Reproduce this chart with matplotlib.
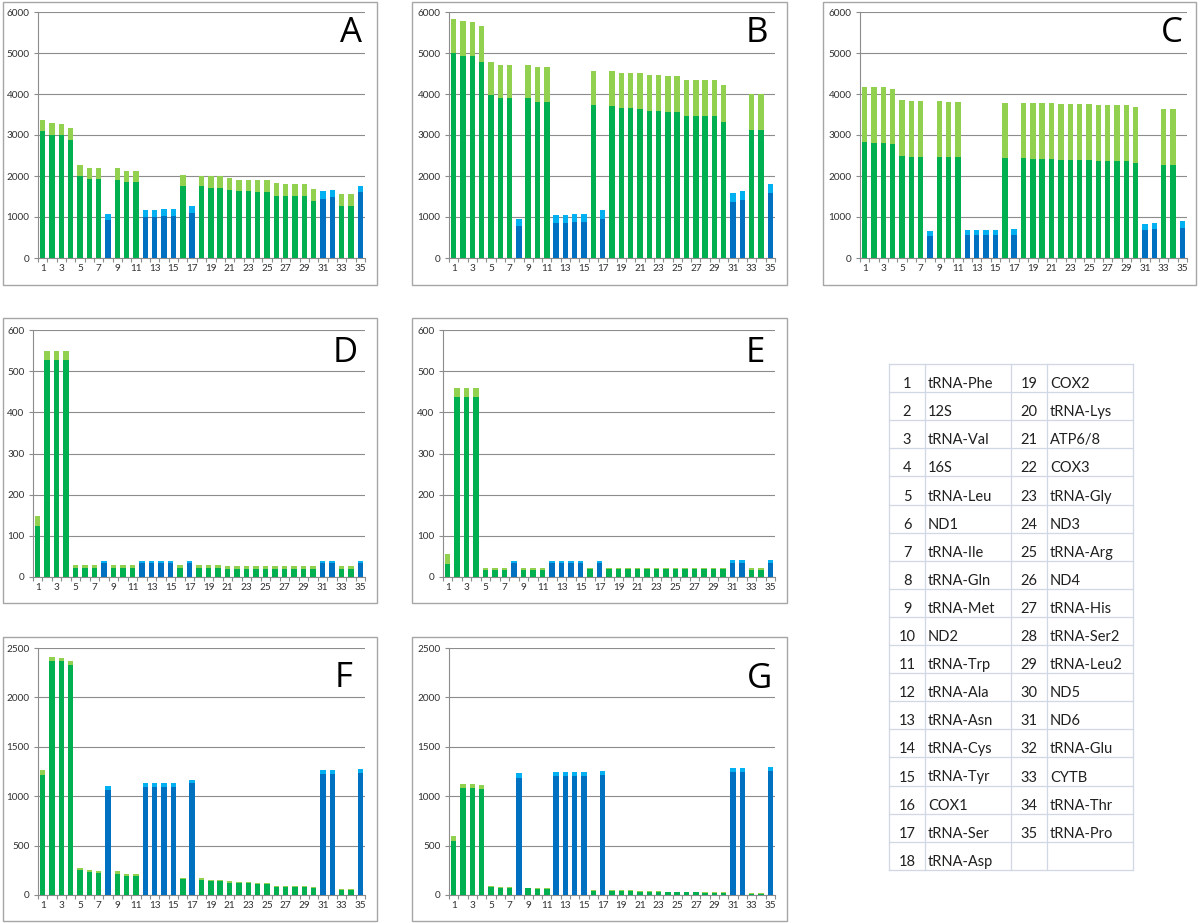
import numpy as np
import matplotlib
matplotlib.use("Agg")
import matplotlib.pyplot as plt
from matplotlib.patches import Rectangle
from matplotlib.lines import Line2D

plt.rcParams['font.family'] = ['Lato', 'DejaVu Sans']

W, H = 1200, 923

# gene positions 1..35 and which ones sit on the other strand (blue)
positions = list(range(1, 36))
blue_genes = [8, 12, 13, 14, 15, 17, 31, 32, 35]

genes = ['tRNA-Phe', '12S', 'tRNA-Val', '16S', 'tRNA-Leu', 'ND1', 'tRNA-Ile',
         'tRNA-Gln', 'tRNA-Met', 'ND2', 'tRNA-Trp', 'tRNA-Ala', 'tRNA-Asn',
         'tRNA-Cys', 'tRNA-Tyr', 'COX1', 'tRNA-Ser', 'tRNA-Asp', 'COX2',
         'tRNA-Lys', 'ATP6/8', 'COX3', 'tRNA-Gly', 'ND3', 'tRNA-Arg', 'ND4',
         'tRNA-His', 'tRNA-Ser2', 'tRNA-Leu2', 'ND5', 'ND6', 'tRNA-Glu',
         'CYTB', 'tRNA-Thr', 'tRNA-Pro']

# lower (dark) part and full height of each bar, per panel
a_low = [3098, 3008, 3008, 2877, 2008, 1934, 1934, 934, 1910, 1844, 1844,
         1008, 1008, 1025, 1025, 1746, 1107, 1746, 1705, 1705, 1664, 1631,
         1631, 1615, 1615, 1516, 1516, 1516, 1516, 1402, 1451, 1500, 1262,
         1262, 1615]
a_top = [3360, 3287, 3279, 3164, 2279, 2205, 2205, 1066, 2205, 2131, 2131,
         1172, 1172, 1189, 1189, 2033, 1270, 2008, 1992, 1992, 1951, 1910,
         1910, 1893, 1893, 1820, 1803, 1803, 1803, 1689, 1631, 1648, 1549,
         1549, 1746]

b_low = [4996, 4931, 4931, 4792, 3977, 3896, 3896, 782, 3896, 3814, 3814,
         856, 856, 880, 880, 3733, 954, 3708, 3667, 3667, 3627, 3586, 3586,
         3570, 3570, 3472, 3472, 3472, 3472, 3325, 1361, 1418, 3113, 3113,
         1589]
b_top = [5827, 5770, 5746, 5656, 4792, 4711, 4711, 945, 4711, 4662, 4662,
         1043, 1043, 1068, 1068, 4564, 1182, 4564, 4523, 4523, 4507, 4466,
         4466, 4450, 4450, 4344, 4344, 4344, 4344, 4222, 1581, 1638, 3993,
         3993, 1793]

c_low = [2829, 2813, 2813, 2780, 2496, 2472, 2472, 528, 2472, 2455, 2455,
         553, 553, 553, 553, 2431, 569, 2431, 2415, 2415, 2415, 2398, 2398,
         2398, 2398, 2358, 2358, 2358, 2358, 2317, 683, 699, 2260, 2260, 740]
c_top = [4179, 4163, 4163, 4130, 3846, 3821, 3821, 659, 3821, 3805, 3805,
         691, 691, 691, 691, 3789, 715, 3789, 3772, 3772, 3772, 3748, 3748,
         3748, 3748, 3724, 3724, 3724, 3724, 3691, 829, 846, 3634, 3634, 894]

d_low = [123, 526, 526, 526, 22, 22, 22, 33, 22, 22, 22, 33, 33, 33, 33,
         22, 33, 22, 22, 22, 20, 20, 20, 20, 20, 20, 20, 20, 20, 20, 33, 33,
         20, 20, 33]
d_top = [149, 550, 550, 550, 28, 28, 28, 40, 28, 28, 28, 40, 40, 40, 40,
         28, 40, 28, 28, 28, 26, 26, 26, 26, 26, 26, 26, 26, 26, 26, 40, 40,
         26, 26, 40]

e_low = [32, 438, 438, 438, 18, 18, 18, 35, 18, 18, 18, 35, 35, 35, 35,
         19, 35, 19, 19, 19, 19, 19, 19, 19, 19, 19, 19, 19, 19, 19, 35, 35,
         18, 18, 35]
e_top = [56, 458, 458, 458, 23, 23, 23, 40, 23, 23, 23, 40, 40, 40, 40,
         21, 40, 21, 21, 21, 21, 21, 21, 21, 21, 21, 21, 21, 21, 21, 41, 41,
         21, 21, 41]

f_low = [1210, 2366, 2366, 2329, 258, 230, 224, 1058, 217, 197, 197, 1092,
         1092, 1092, 1092, 159, 1129, 156, 142, 142, 125, 119, 119, 112, 112,
         85, 85, 85, 85, 68, 1220, 1220, 51, 51, 1231]
f_top = [1268, 2410, 2403, 2373, 275, 254, 244, 1102, 244, 210, 210, 1132,
         1132, 1132, 1132, 173, 1169, 173, 153, 153, 139, 132, 129, 122, 122,
         95, 95, 95, 95, 78, 1261, 1261, 58, 58, 1271]

g_low = [549, 1088, 1088, 1075, 85, 75, 75, 1186, 68, 61, 61, 1203, 1203,
         1203, 1203, 44, 1210, 44, 44, 44, 34, 34, 34, 27, 27, 27, 27, 20,
         20, 20, 1244, 1244, 10, 10, 1254]
g_top = [593, 1125, 1125, 1112, 92, 81, 81, 1231, 75, 68, 68, 1244, 1244,
         1244, 1244, 51, 1254, 51, 51, 51, 41, 41, 41, 34, 34, 34, 34, 27,
         27, 27, 1285, 1285, 17, 17, 1295]

panels = [
    # letter, low, top, ymax, step, frame px, axes px, letter pos
    ('A', a_low, a_top, 6000, 1000, (3, 2, 377, 285), (38, 12, 365, 258), (0.99, 0.915)),
    ('B', b_low, b_top, 6000, 1000, (412, 2, 787, 285), (449, 12, 775, 258), (0.979, 0.915)),
    ('C', c_low, c_top, 6000, 1000, (823, 2, 1196, 285), (860, 12, 1187, 258), (0.988, 0.915)),
    ('D', d_low, d_top, 600, 100, (3, 318, 377, 603), (33, 330, 365, 577), (0.979, 0.907)),
    ('E', e_low, e_top, 600, 100, (412, 318, 787, 603), (443, 330, 775, 577), (0.97, 0.907)),
    ('F', f_low, f_top, 2500, 500, (3, 637, 377, 921), (38, 648, 365, 895), (0.963, 0.878)),
    ('G', g_low, g_top, 2500, 500, (412, 637, 787, 921), (449, 648, 775, 895), (0.99, 0.874)),
]

dark_green, light_green = '#00b050', '#92d050'
dark_blue, light_blue = '#0070c0', '#00b0f0'
axis_grey = '#8c8c8c'


def px_rect(l, t, r, b):
    return [l / W, 1 - b / H, (r - l) / W, (b - t) / H]


fig = plt.figure(figsize=(W / 100, H / 100), dpi=100)

for letter, low, top, ymax, step, frame, box, lpos in panels:
    l, t, r, b = frame
    fig.add_artist(Rectangle((l / W, 1 - b / H), (r - l) / W, (b - t) / H,
                             transform=fig.transFigure, fill=False,
                             edgecolor='#a6a6a6', linewidth=1.0))
    ax = fig.add_axes(px_rect(*box))
    low = np.array(low)
    upper = np.array(top) - low
    is_blue = np.isin(positions, blue_genes)
    base_col = np.where(is_blue, dark_blue, dark_green)
    top_col = np.where(is_blue, light_blue, light_green)
    ax.bar(positions, low, width=0.58, color=base_col, zorder=3)
    ax.bar(positions, upper, bottom=low, width=0.58, color=top_col, zorder=3)

    ax.set_xlim(0.5, 35.5)
    ax.set_ylim(0, ymax)
    ax.set_yticks(np.arange(0, ymax + 1, step))
    ax.set_xticks(positions[::2])
    ax.set_xticks(np.arange(0.5, 36, 1), minor=True)
    ax.yaxis.grid(True, color=axis_grey, linewidth=0.8, zorder=0)
    for side in ['top', 'right']:
        ax.spines[side].set_visible(False)
    for side in ['left', 'bottom']:
        ax.spines[side].set_color(axis_grey)
        ax.spines[side].set_linewidth(0.8)
    ax.tick_params(axis='x', which='major', length=0, labelsize=7.2,
                   labelcolor='#303030', pad=4)
    ax.tick_params(axis='x', which='minor', length=3, color=axis_grey, width=0.8)
    ax.tick_params(axis='y', length=3, color=axis_grey, width=0.8,
                   labelsize=7.2, labelcolor='#303030', pad=3)
    ax.text(lpos[0], lpos[1], letter, transform=ax.transAxes, ha='right',
            va='center', fontsize=25, family=['Open Sans', 'DejaVu Sans'])

# gene index table
col_x = [889, 925, 1011, 1047, 1133]
row_top, row_h, n_rows = 364, 28.1, 18
line_col = '#d0d7e5'
for i in range(n_rows + 1):
    y = 1 - (row_top + i * row_h) / H
    fig.add_artist(Line2D([col_x[0] / W, col_x[-1] / W], [y, y],
                          transform=fig.transFigure, color=line_col, lw=0.9))
for x in col_x:
    fig.add_artist(Line2D([x / W, x / W],
                          [1 - row_top / H, 1 - (row_top + n_rows * row_h) / H],
                          transform=fig.transFigure, color=line_col, lw=0.9))

for i, name in enumerate(genes):
    col = 0 if i < n_rows else 1
    row = i if i < n_rows else i - n_rows
    base = 1 - (row_top + (row + 1) * row_h - 4) / H
    cx = (col_x[2 * col] + col_x[2 * col + 1]) / 2
    fig.text(cx / W, base, str(positions[i]), ha='center', va='baseline',
             fontsize=10.5, color='#202020')
    fig.text((col_x[2 * col + 1] + 3) / W, base, name, ha='left',
             va='baseline', fontsize=10.5, color='#202020')

fig.savefig('out.png', dpi=100, facecolor='white')
